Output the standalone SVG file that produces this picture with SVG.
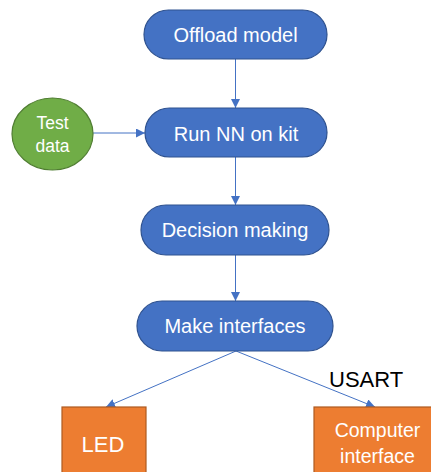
<svg xmlns="http://www.w3.org/2000/svg" width="431" height="472" viewBox="0 0 431 472">
  <style>
    .step { fill: #4472C4; stroke: #2F528F; stroke-width: 1.2; }
    .data { fill: #70AD47; stroke: #507E32; stroke-width: 1.2; }
    .out  { fill: #ED7D31; stroke: #AE5A21; stroke-width: 1.2; }
    .lbl  { font-family: "Liberation Sans", Arial, sans-serif; fill: #FFFFFF; text-anchor: middle; }
    .edge { stroke: #4472C4; stroke-width: 1; fill: none; marker-end: url(#arrow); }
    .note { font-family: "Liberation Sans", Arial, sans-serif; fill: #000000; }
  </style>
  <defs>
    <marker id="arrow" viewBox="0 0 10 10" refX="10" refY="5" markerWidth="9" markerHeight="9" markerUnits="userSpaceOnUse" orient="auto">
      <path d="M0,0 L10,5 L0,10 Z" fill="#4472C4"/>
    </marker>
  </defs>
  <rect width="431" height="472" fill="#FFFFFF"/>

  <g id="connectors">
    <line class="edge" x1="235.5" y1="59" x2="235.5" y2="108"/>
    <line class="edge" x1="93" y1="133" x2="145" y2="133"/>
    <line class="edge" x1="235.5" y1="157" x2="235.5" y2="205"/>
    <line class="edge" x1="235.5" y1="255" x2="235.5" y2="301"/>
    <line class="edge" x1="236" y1="351" x2="106" y2="407"/>
    <line class="edge" x1="236" y1="351" x2="375" y2="407"/>
  </g>

  <g id="offload-model">
    <rect class="step" x="144" y="10" width="183" height="49" rx="24.5"/>
    <text class="lbl" x="235.5" y="42" font-size="20">Offload model</text>
  </g>

  <g id="run-nn">
    <rect class="step" x="145" y="108" width="182" height="49" rx="24.5"/>
    <text class="lbl" x="236" y="141" font-size="20">Run NN on kit</text>
  </g>

  <g id="test-data">
    <ellipse class="data" cx="52.5" cy="134" rx="40.5" ry="36"/>
    <text class="lbl" x="52.5" y="129" font-size="17.5">Test</text>
    <text class="lbl" x="52.5" y="152" font-size="17.5">data</text>
  </g>

  <g id="decision-making">
    <rect class="step" x="141" y="205" width="188" height="50" rx="25"/>
    <text class="lbl" x="235" y="237" font-size="20">Decision making</text>
  </g>

  <g id="make-interfaces">
    <rect class="step" x="137" y="301" width="196" height="50" rx="25"/>
    <text class="lbl" x="235" y="333" font-size="20">Make interfaces</text>
  </g>

  <g id="led">
    <rect class="out" x="62" y="407" width="84" height="75"/>
    <text class="lbl" x="103" y="452" font-size="22">LED</text>
  </g>

  <g id="computer-interface">
    <rect class="out" x="314" y="407" width="125" height="75"/>
    <text class="lbl" x="377.5" y="437" font-size="19.5">Computer</text>
    <text class="lbl" x="377.5" y="463" font-size="19.5">interface</text>
  </g>

  <text class="note" x="329" y="387" font-size="22">USART</text>
</svg>
